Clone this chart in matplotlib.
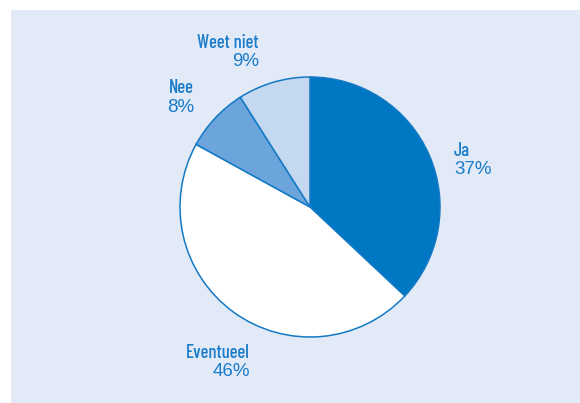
import matplotlib
matplotlib.use("Agg")
import matplotlib.pyplot as plt
from matplotlib.patches import Rectangle

# Survey answers and their shares (%)
categories = ["Ja", "Eventueel", "Nee", "Weet niet"]
shares = [37, 46, 8, 9]
wedge_colors = ["#0077c2", "#ffffff", "#6ca5dc", "#c4d8f0"]

W, H = 580, 403
fig = plt.figure(figsize=(W / 100, H / 100), dpi=100)
fig.patch.set_facecolor("white")
ax = fig.add_axes([0, 0, 1, 1])

# light blue panel
ax.add_patch(Rectangle((11, 0), W - 11, H - 10, facecolor="#e2eaf7",
                       edgecolor="none", zorder=0))

edge = "#1479c4"
ax.pie(shares, colors=wedge_colors, startangle=90, counterclock=False,
       center=(310, 196), radius=130, frame=True,
       wedgeprops=dict(edgecolor=edge, linewidth=1.1))
ax.set_xlim(0, W)
ax.set_ylim(0, H)
ax.set_aspect("equal")
ax.axis("off")

txt = "#1a7ccb"
name_font = dict(family=["Barlow Condensed", "DejaVu Sans"],
                 weight=500, size=13.5, color=txt)
pct_font = dict(family=["Liberation Sans", "DejaVu Sans"],
                size=13.5, color=txt)

# label anchors: (x, name y, pct y, horizontal alignment)
anchors = {
    "Ja": (454, H - 151, H - 170, "left"),
    "Eventueel": (250, H - 353, H - 372, "right"),
    "Nee": (194, H - 88, H - 107, "right"),
    "Weet niet": (259, H - 43, H - 62, "right"),
}
for cat, val in zip(categories, shares):
    x, yn, yp, ha = anchors[cat]
    ax.text(x, yn, cat, ha=ha, va="center", **name_font)
    ax.text(x, yp, f"{val}%", ha=ha, va="center", **pct_font)

fig.savefig("out.png", dpi=100, facecolor=fig.get_facecolor())
